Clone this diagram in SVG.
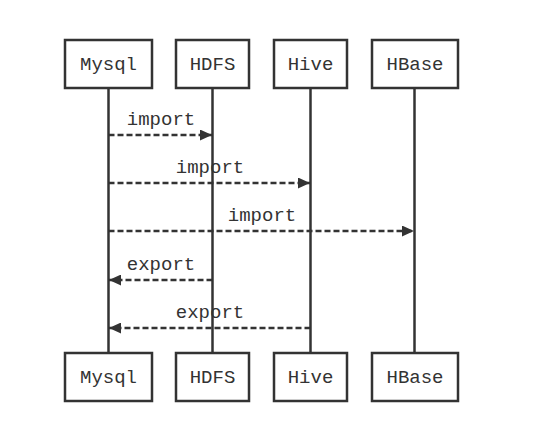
<svg xmlns="http://www.w3.org/2000/svg" width="537" height="430" viewBox="0 0 537 430">
<style>
.box{fill:#fff;stroke:#333;stroke-width:2.5}
.life{stroke:#333;stroke-width:2.5}
.msg{stroke:#333;stroke-width:2.5;stroke-dasharray:6,3;fill:none}
text{font-family:"Liberation Mono","Courier New",monospace;font-size:19px;fill:#333;text-anchor:middle}
</style>
<defs>
<marker id="ah" markerWidth="12" markerHeight="11" refX="12" refY="5.5" orient="auto" markerUnits="userSpaceOnUse">
<path d="M0,0 L12,5.5 L0,11 Z" fill="#333"/>
</marker>
</defs>
<rect width="537" height="430" fill="#fff"/>
<g id="lifelines">
<line class="life" x1="108.5" y1="88" x2="108.5" y2="353"/>
<line class="life" x1="212.5" y1="88" x2="212.5" y2="353"/>
<line class="life" x1="310.5" y1="88" x2="310.5" y2="353"/>
<line class="life" x1="414.5" y1="88" x2="414.5" y2="353"/>
</g>
<g id="mysql-top"><rect class="box" x="65" y="40" width="87" height="48"/><text x="108.5" y="70">Mysql</text></g>
<g id="hdfs-top"><rect class="box" x="176" y="40" width="73" height="48"/><text x="212.5" y="70">HDFS</text></g>
<g id="hive-top"><rect class="box" x="274" y="40" width="73" height="48"/><text x="310.5" y="70">Hive</text></g>
<g id="hbase-top"><rect class="box" x="372" y="40" width="86" height="48"/><text x="415" y="70">HBase</text></g>
<g id="mysql-bottom"><rect class="box" x="65" y="353" width="87" height="48"/><text x="108.5" y="383">Mysql</text></g>
<g id="hdfs-bottom"><rect class="box" x="176" y="353" width="73" height="48"/><text x="212.5" y="383">HDFS</text></g>
<g id="hive-bottom"><rect class="box" x="274" y="353" width="73" height="48"/><text x="310.5" y="383">Hive</text></g>
<g id="hbase-bottom"><rect class="box" x="372" y="353" width="86" height="48"/><text x="415" y="383">HBase</text></g>
<g id="connectors">
<line class="msg" x1="108.5" y1="135" x2="212" y2="135" marker-end="url(#ah)"/>
<text x="161" y="125">import</text>
<line class="msg" x1="108.5" y1="183" x2="310" y2="183" marker-end="url(#ah)"/>
<text x="210" y="173">import</text>
<line class="msg" x1="108.5" y1="231" x2="414" y2="231" marker-end="url(#ah)"/>
<text x="262" y="221">import</text>
<line class="msg" x1="212.5" y1="280" x2="109" y2="280" marker-end="url(#ah)"/>
<text x="161" y="270">export</text>
<line class="msg" x1="310.5" y1="328" x2="109" y2="328" marker-end="url(#ah)"/>
<text x="210" y="318">export</text>
</g>
</svg>
